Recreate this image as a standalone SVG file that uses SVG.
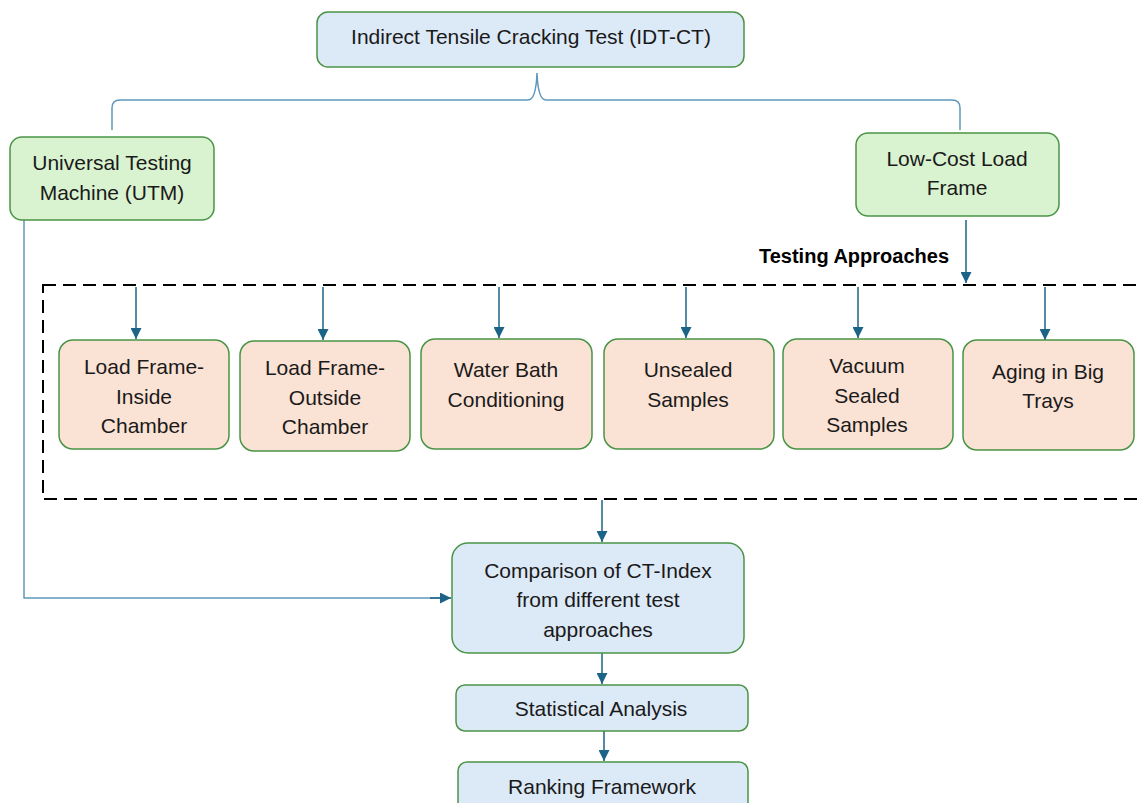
<svg xmlns="http://www.w3.org/2000/svg" width="1143" height="803" viewBox="0 0 1143 803">
<defs>
<marker id="ah" viewBox="0 0 10 10" refX="10" refY="5" markerWidth="11" markerHeight="11" markerUnits="userSpaceOnUse" orient="auto">
<path d="M0,0 L10,5 L0,10 Z" fill="#1b6487"/>
</marker>
<style>
.box{stroke:#4a9446;stroke-width:1.5}
.blue{fill:#dce9f6}
.green{fill:#d9f2d0}
.pink{fill:#fae2d5}
.t{font-family:"Liberation Sans",Arial,sans-serif;font-size:21px;fill:#1a1a1a;text-anchor:middle}
.b{font-family:"Liberation Sans",Arial,sans-serif;font-size:20px;font-weight:bold;fill:#000;text-anchor:middle}
.c{fill:none;stroke:#1b6487;stroke-width:1.5}
.br{fill:none;stroke:#5d98bb;stroke-width:1.5}
</style>
</defs>
<rect width="1143" height="803" fill="#fff"/>

<g id="connectors">
<path class="br" d="M112,130 V108 Q112,100 120,100 H528 Q536,100 537,73 Q538,100 546,100 H952 Q960,100 960,108 V130"/>
<path class="c" d="M966,220 V283" marker-end="url(#ah)"/>
<path class="c" d="M136,287 V339" marker-end="url(#ah)"/>
<path class="c" d="M323,287 V340" marker-end="url(#ah)"/>
<path class="c" d="M499,287 V338" marker-end="url(#ah)"/>
<path class="c" d="M686,287 V338" marker-end="url(#ah)"/>
<path class="c" d="M858,287 V338" marker-end="url(#ah)"/>
<path class="c" d="M1045,287 V340" marker-end="url(#ah)"/>
<path class="br" d="M24,220 V598 H440"/>
<path class="c" d="M430,598 H451" marker-end="url(#ah)"/>
<path class="c" d="M602,500 V542" marker-end="url(#ah)"/>
<path class="c" d="M602,653 V684" marker-end="url(#ah)"/>
<path class="c" d="M604,731 V761" marker-end="url(#ah)"/>
</g>

<g id="group-testing-approaches">
<rect x="43" y="285" width="1120" height="214" fill="none" stroke="#000" stroke-width="2" stroke-dasharray="13 7"/>
<text class="b" x="854" y="263">Testing Approaches</text>
</g>

<g id="node-idtct">
<rect class="box blue" x="317" y="12" width="427" height="55" rx="11"/>
<text class="t" x="531" y="44">Indirect Tensile Cracking Test (IDT-CT)</text>
</g>

<g id="node-utm">
<rect class="box green" x="10" y="137" width="204" height="83" rx="12"/>
<text class="t" x="112" y="170">Universal Testing</text>
<text class="t" x="112" y="200">Machine (UTM)</text>
</g>

<g id="node-lowcost">
<rect class="box green" x="856" y="133" width="203" height="83" rx="12"/>
<text class="t" x="957" y="166">Low-Cost Load</text>
<text class="t" x="957" y="195">Frame</text>
</g>

<g id="node-inside">
<rect class="box pink" x="59" y="340" width="170" height="109" rx="14"/>
<text class="t" x="144" y="374">Load Frame-</text>
<text class="t" x="144" y="404">Inside</text>
<text class="t" x="144" y="433">Chamber</text>
</g>

<g id="node-outside">
<rect class="box pink" x="240" y="341" width="170" height="110" rx="14"/>
<text class="t" x="325" y="375">Load Frame-</text>
<text class="t" x="325" y="405">Outside</text>
<text class="t" x="325" y="434">Chamber</text>
</g>

<g id="node-waterbath">
<rect class="box pink" x="421" y="339" width="171" height="110" rx="14"/>
<text class="t" x="506" y="377">Water Bath</text>
<text class="t" x="506" y="407">Conditioning</text>
</g>

<g id="node-unsealed">
<rect class="box pink" x="604" y="339" width="170" height="110" rx="14"/>
<text class="t" x="688" y="377">Unsealed</text>
<text class="t" x="688" y="407">Samples</text>
</g>

<g id="node-vacuum">
<rect class="box pink" x="783" y="339" width="170" height="110" rx="14"/>
<text class="t" x="867" y="373">Vacuum</text>
<text class="t" x="867" y="403">Sealed</text>
<text class="t" x="867" y="432">Samples</text>
</g>

<g id="node-aging">
<rect class="box pink" x="963" y="340" width="171" height="110" rx="14"/>
<text class="t" x="1048" y="379">Aging in Big</text>
<text class="t" x="1048" y="408">Trays</text>
</g>

<g id="node-comparison">
<rect class="box blue" x="452" y="543" width="292" height="110" rx="16"/>
<text class="t" x="598" y="578">Comparison of CT-Index</text>
<text class="t" x="598" y="607">from different test</text>
<text class="t" x="598" y="637">approaches</text>
</g>

<g id="node-statistical">
<rect class="box blue" x="456" y="685" width="292" height="46" rx="9"/>
<text class="t" x="601" y="716">Statistical Analysis</text>
</g>

<g id="node-ranking">
<rect class="box blue" x="458" y="762" width="290" height="60" rx="9"/>
<text class="t" x="602" y="794">Ranking Framework</text>
</g>
</svg>
